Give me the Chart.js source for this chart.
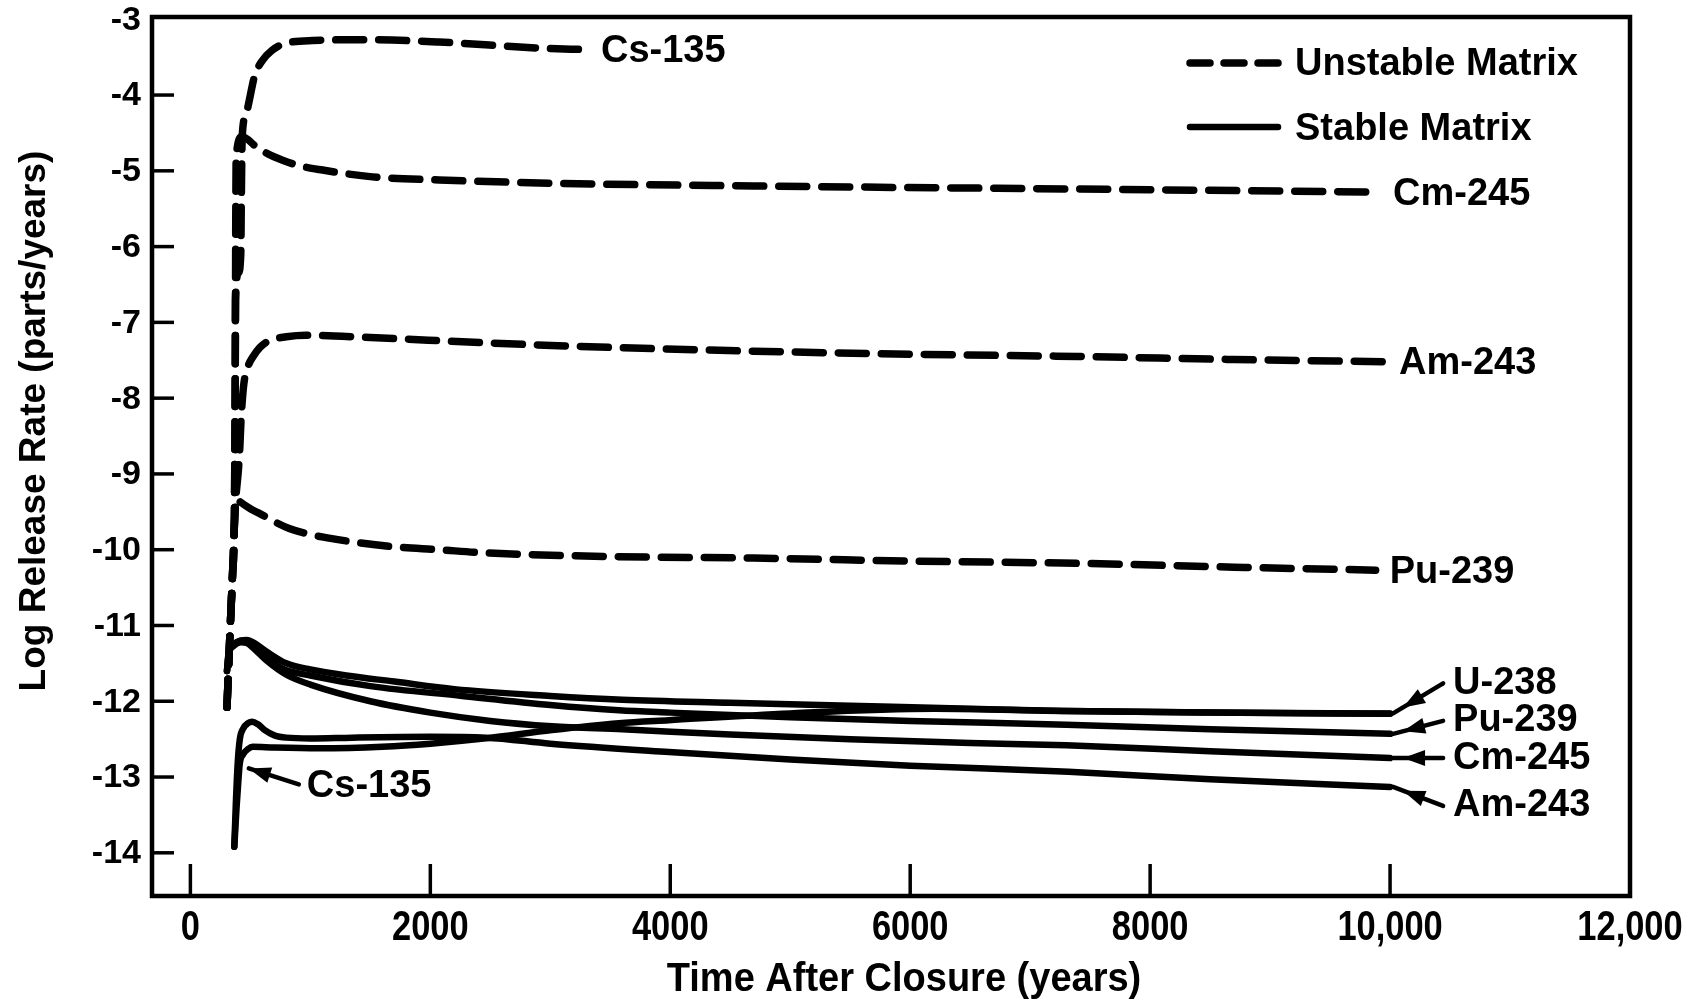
<!DOCTYPE html>
<html>
<head>
<meta charset="utf-8">
<title>Log Release Rate vs Time After Closure</title>
<script src="https://cdn.jsdelivr.net/npm/chart.js@4.4.1/dist/chart.umd.min.js"></script>
<style>
  html, body { margin: 0; padding: 0; background: #fff; }
  #wrap { width: 1692px; height: 1002px; }
</style>
</head>
<body>
<div id="wrap"><canvas id="releaseChart" width="1692" height="1002"></canvas></div>
<script>
// Axis ticks
const xTicks = [0, 2000, 4000, 6000, 8000, 10000, 12000];
const xTickLabels = ['0', '2000', '4000', '6000', '8000', '10,000', '12,000'];
const yTicks = [-3, -4, -5, -6, -7, -8, -9, -10, -11, -12, -13, -14];

// Unstable matrix (dashed) - [years, log release rate]
const unstableCs135 = [[305,-12.08],[330,-11.1],[352,-10.3],[366,-9.7],[371,-8.6],[374,-7.6],[376,-6.7],[400,-6.35],[420,-6.1],[425,-5.3],[432,-4.55],[460,-4.28],[491,-4.07],[533,-3.76],[602,-3.54],[680,-3.41],[769,-3.33],[1018,-3.28],[1463,-3.27],[2073,-3.3],[2906,-3.38],[3306,-3.4]];
const unstableCm245 = [[305,-12.08],[330,-11.1],[352,-10.3],[366,-9.7],[371,-8.6],[374,-7.6],[376,-6.7],[378,-5.7],[382,-4.8],[432,-4.55],[547,-4.68],[650,-4.78],[769,-4.86],[900,-4.93],[1102,-4.99],[1518,-5.08],[2073,-5.12],[2906,-5.16],[4697,-5.2],[7394,-5.24],[9908,-5.28]];
const unstableAm243 = [[305,-12.08],[330,-11.1],[352,-10.3],[366,-9.7],[380,-9.3],[400,-8.95],[412,-8.65],[422,-8.29],[435,-7.98],[450,-7.76],[480,-7.58],[519,-7.46],[580,-7.33],[658,-7.24],[800,-7.19],[963,-7.17],[1500,-7.2],[2453,-7.27],[3500,-7.33],[4697,-7.38],[6000,-7.42],[7394,-7.45],[8700,-7.49],[9958,-7.52]];
const unstablePu239 = [[305,-12.08],[330,-11.1],[352,-10.3],[366,-9.7],[380,-9.32],[408,-9.36],[500,-9.46],[575,-9.52],[700,-9.63],[824,-9.72],[1000,-9.8],[1130,-9.84],[1324,-9.89],[1685,-9.96],[2073,-10.0],[2434,-10.04],[3500,-10.09],[4697,-10.11],[6000,-10.15],[7394,-10.18],[8700,-10.23],[9880,-10.27]];

// Stable matrix (solid)
const stableU238 = [[305,-11.6],[320,-11.35],[360,-11.25],[420,-11.2],[470,-11.19],[540,-11.24],[640,-11.35],[800,-11.5],[1000,-11.58],[1300,-11.66],[1700,-11.74],[2200,-11.84],[3000,-11.93],[3600,-11.98],[4500,-12.02],[5500,-12.06],[6500,-12.1],[7300,-12.13],[8500,-12.15],[10000,-12.16]];
const stablePu239 = [[305,-11.6],[320,-11.35],[360,-11.25],[420,-11.2],[470,-11.21],[540,-11.28],[640,-11.42],[769,-11.57],[1000,-11.66],[1500,-11.8],[2265,-11.93],[3000,-12.05],[3572,-12.12],[4000,-12.15],[5000,-12.21],[6000,-12.26],[7300,-12.31],[8500,-12.37],[10000,-12.43]];
const stableCm245 = [[305,-11.6],[320,-11.38],[360,-11.27],[420,-11.22],[470,-11.23],[540,-11.32],[640,-11.47],[800,-11.65],[1000,-11.78],[1500,-12.0],[2000,-12.15],[2500,-12.26],[3014,-12.33],[3600,-12.37],[4500,-12.44],[5500,-12.5],[6500,-12.55],[7300,-12.58],[8500,-12.66],[10000,-12.75]];
const stableAm243 = [[366,-13.92],[380,-13.3],[395,-12.8],[412,-12.5],[440,-12.36],[480,-12.29],[516,-12.27],[560,-12.3],[620,-12.38],[700,-12.45],[800,-12.48],[1000,-12.49],[1349,-12.48],[2000,-12.47],[2465,-12.48],[3000,-12.56],[3988,-12.67],[5000,-12.77],[6000,-12.85],[7319,-12.93],[8500,-13.03],[10000,-13.13]];
const stableCs135 = [[366,-13.92],[385,-13.4],[400,-13.05],[412,-12.82],[440,-12.7],[480,-12.63],[519,-12.6],[700,-12.61],[1074,-12.62],[1600,-12.6],[2000,-12.56],[2465,-12.49],[3014,-12.38],[3572,-12.29],[3988,-12.25],[5000,-12.16],[6200,-12.1],[7300,-12.13],[8500,-12.15],[10000,-12.165]];

const FONT = '"Liberation Sans", Arial, Helvetica, sans-serif';

function curve(points, dashed) {
  return {
    data: points.map(([x, y]) => ({ x: x, y: y })),
    showLine: true,
    borderColor: '#000',
    borderWidth: dashed ? 7.5 : 6.5,
    borderDash: dashed ? [28, 15] : [],
    borderCapStyle: 'round',
    borderJoinStyle: 'round',
    cubicInterpolationMode: 'monotone',
    pointRadius: 0,
    fill: false
  };
}

function lastPixel(chart, points) {
  const p = points[points.length - 1];
  return { x: chart.scales.x.getPixelForValue(p[0]), y: chart.scales.y.getPixelForValue(p[1]) };
}

function arrow(ctx, x1, y1, x2, y2, at) {
  // shaft from label (x1,y1) to curve (x2,y2), head pointing at the curve
  ctx.beginPath();
  ctx.moveTo(x1, y1);
  ctx.lineTo(x2, y2);
  ctx.stroke();
  const ang = Math.atan2(y2 - y1, x2 - x1);
  const tx = x2 + (x1 - x2) * at, ty = y2 + (y1 - y2) * at;
  ctx.beginPath();
  ctx.moveTo(tx, ty);
  ctx.lineTo(tx - 22 * Math.cos(ang) + 8 * Math.sin(ang), ty - 22 * Math.sin(ang) - 8 * Math.cos(ang));
  ctx.lineTo(tx - 22 * Math.cos(ang) - 8 * Math.sin(ang), ty - 22 * Math.sin(ang) + 8 * Math.cos(ang));
  ctx.closePath();
  ctx.fill();
}

// Frame, inward ticks, labels, legend
const overlay = {
  id: 'overlay',
  afterDraw(chart) {
    const ctx = chart.ctx;
    const a = chart.chartArea;
    const x = chart.scales.x, y = chart.scales.y;
    ctx.save();
    ctx.strokeStyle = '#000';
    ctx.fillStyle = '#000';
    ctx.lineCap = 'butt';

    ctx.lineWidth = 4.5;
    ctx.strokeRect(a.left, a.top, a.right - a.left, a.bottom - a.top);

    ctx.lineWidth = 3.5;
    yTicks.forEach(v => {
      const py = y.getPixelForValue(v);
      if (py - a.top > 4) {
        ctx.beginPath(); ctx.moveTo(a.left, py); ctx.lineTo(a.left + 22, py); ctx.stroke();
      }
    });
    xTicks.forEach(v => {
      const px = x.getPixelForValue(v);
      if (a.right - px > 4) {
        ctx.beginPath(); ctx.moveTo(px, a.bottom); ctx.lineTo(px, a.bottom - 32); ctx.stroke();
      }
    });

    // tick labels
    ctx.font = 'bold 34px ' + FONT;
    ctx.textAlign = 'right';
    ctx.textBaseline = 'middle';
    yTicks.forEach(v => ctx.fillText(String(v), a.left - 11, y.getPixelForValue(v) + 1));

    ctx.font = 'bold 42px ' + FONT;
    ctx.textAlign = 'center';
    xTicks.forEach((v, i) => {
      ctx.save();
      ctx.translate(x.getPixelForValue(v), a.bottom + 32);
      ctx.scale(0.82, 1);
      ctx.fillText(xTickLabels[i], 0, 0);
      ctx.restore();
    });

    // axis titles
    ctx.save();
    ctx.font = 'bold 40px ' + FONT;
    ctx.translate(904, 980);
    ctx.scale(0.95, 1);
    ctx.fillText('Time After Closure (years)', 0, 0);
    ctx.restore();

    ctx.save();
    ctx.font = 'bold 37px ' + FONT;
    ctx.translate(35, 421);
    ctx.rotate(-Math.PI / 2);
    ctx.fillText('Log Release Rate (parts/years)', 0, 0);
    ctx.restore();

    // legend
    ctx.font = 'bold 38px ' + FONT;
    ctx.textAlign = 'left';
    ctx.fillText('Unstable Matrix', 1295, 65);
    ctx.fillText('Stable Matrix', 1295, 130);
    ctx.lineCap = 'round';
    ctx.lineWidth = 7.5;
    ctx.setLineDash([20, 14]);
    ctx.beginPath(); ctx.moveTo(1190, 63); ctx.lineTo(1278, 63); ctx.stroke();
    ctx.setLineDash([]);
    ctx.lineWidth = 6.5;
    ctx.beginPath(); ctx.moveTo(1190, 127); ctx.lineTo(1278, 127); ctx.stroke();

    // unstable end labels
    [[unstableCs135, 'Cs-135'], [unstableCm245, 'Cm-245'], [unstableAm243, 'Am-243'], [unstablePu239, 'Pu-239']].forEach(([pts, txt]) => {
      const p = lastPixel(chart, pts);
      ctx.fillText(txt, p.x + 14, p.y + 2);
    });

    // stable end labels with arrows
    ctx.lineWidth = 4.5;
    ctx.lineCap = 'round';
    [[stableU238, 'U-238', -30], [stablePu239, 'Pu-239', -13], [stableCm245, 'Cm-245', 0], [stableAm243, 'Am-243', 19]].forEach(([pts, txt, dy]) => {
      const p = lastPixel(chart, pts);
      arrow(ctx, p.x + 53, p.y + dy, p.x + 3, p.y, 0.2);
      ctx.fillText(txt, p.x + 63, p.y + dy);
    });

    // Cs-135 stable label near the start
    const cs = stableCs135[3];
    const tipX = x.getPixelForValue(cs[0]) + 9, tipY = y.getPixelForValue(cs[1]) + 5;
    arrow(ctx, tipX + 50, tipY + 16, tipX, tipY, 0);
    ctx.fillText('Cs-135', tipX + 58, tipY + 18);

    ctx.restore();
  }
};

document.addEventListener('DOMContentLoaded', function() {
  const ctx = document.getElementById('releaseChart');
  new Chart(ctx, {
    type: 'scatter',
    data: {
      datasets: [
        curve(unstableCs135, true),
        curve(unstableCm245, true),
        curve(unstableAm243, true),
        curve(unstablePu239, true),
        curve(stableU238, false),
        curve(stablePu239, false),
        curve(stableCm245, false),
        curve(stableAm243, false),
        curve(stableCs135, false)
      ]
    },
    options: {
      responsive: false,
      animation: false,
      events: [],
      layout: { padding: { left: 0, right: 62, top: 17, bottom: 0 } },
      plugins: { legend: { display: false }, tooltip: { enabled: false } },
      scales: {
        x: {
          type: 'linear', min: -320, max: 12000,
          grid: { display: false }, border: { display: false }, ticks: { display: false },
          afterBuildTicks: function(scale) { scale.ticks = xTicks.map(v => ({ value: v })); },
          afterFit: function(scale) { scale.height = 106; }
        },
        y: {
          type: 'linear', min: -14.57, max: -2.97,
          grid: { display: false }, border: { display: false }, ticks: { display: false },
          afterBuildTicks: function(scale) { scale.ticks = yTicks.map(v => ({ value: v })); },
          afterFit: function(scale) { scale.width = 152; }
        }
      }
    },
    plugins: [overlay]
  });
});
</script>
</body>
</html>
